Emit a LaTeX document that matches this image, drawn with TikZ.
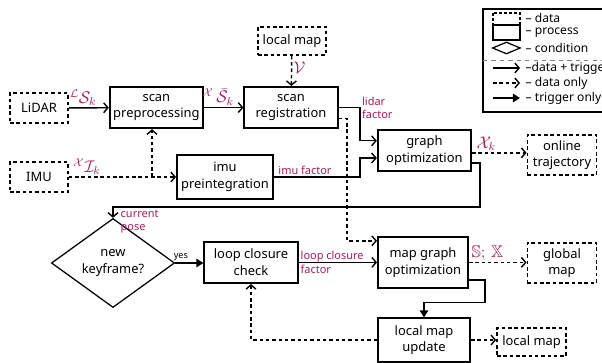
\documentclass[tikz,border=0pt]{standalone}
\usepackage{amsmath}
\usepackage{amssymb}
\usepackage{fontspec}
\setmainfont{Noto Sans}
\usetikzlibrary{arrows.meta,shapes.geometric}
\definecolor{factor}{RGB}{163,30,90}

\begin{document}
\begin{tikzpicture}[
    font=\fontsize{9.2}{11.8}\selectfont,
    data/.style={draw, line width=1.2pt, dash pattern=on 2.5pt off 2pt, minimum width=1.45cm,
                 minimum height=0.75cm, align=center, inner sep=1pt},
    proc/.style={draw, line width=1.4pt, minimum width=2.33cm, minimum height=1.03cm,
                 align=center, inner sep=1pt},
    cond/.style={draw, diamond, line width=0.9pt, align=center, inner sep=0pt},
    flow/.style={-{Straight Barb[length=3pt,width=7pt]}, line width=1pt},
    dflow/.style={flow, dash pattern=on 2.5pt off 2pt},
    trig/.style={-{Triangle[length=5pt,width=6pt]}, line width=1pt},
    lbl/.style={color=factor, font=\fontsize{7.8}{9.4}\selectfont, align=left, inner sep=1pt},
    sym/.style={color=factor, font=\large, inner sep=1pt},
    legtxt/.style={anchor=west, font=\fontsize{8.6}{10}\selectfont, inner sep=1pt}
]
    \useasboundingbox (0,0) rectangle (15.05,-9.075);
    \clip (0,0) rectangle (15.05,-9.075);

    % Sensors
    \node[data] (lidar) at (0.975,-2.7)   {LiDAR};
    \node[data] (imu)   at (0.975,-4.425) {IMU};

    % Odometry
    \node[proc] (prep) at (3.91,-2.69)  {scan\\preprocessing};
    \node[proc] (reg)  at (7.275,-2.69) {scan\\registration};
    \node[data, minimum width=1.7cm, minimum height=0.7cm] (lmapin) at (7.3,-1.025) {local map};
    \node[proc, minimum width=2.4cm, minimum height=1.08cm] (preint) at (5.625,-4.425) {imu\\preintegration};
    \node[proc] (gopt) at (10.61,-3.76) {graph\\optimization};
    \node[data, minimum width=1.73cm, minimum height=1cm] (traj) at (14.05,-3.875) {online\\trajectory};

    % Mapping
    \node[cond, minimum width=3.08cm, minimum height=1.48cm] (kf) at (2.825,-6.575) {new\\keyframe?};
    \node[proc] (lcc) at (6.275,-6.56) {loop closure\\check};
    \node[proc, minimum width=2.25cm, minimum height=1.28cm] (mgo) at (10.575,-6.56) {map graph\\optimization};
    \node[data, minimum width=1.73cm, minimum height=1cm] (gmap) at (14.05,-6.575) {global\\map};
    \node[proc, minimum width=2.3cm, minimum height=1.08cm] (lmu) at (10.6,-8.5) {local map\\update};
    \node[data, minimum width=1.73cm, minimum height=0.7cm] (lmapout) at (13.29,-8.55) {local map};

    % Turning points
    \coordinate (split) at (3.8,-4.425);
    \coordinate (fuse)  at (9.0,-3.0);
    \coordinate (tap)   at (8.675,-3.0);
    \coordinate (pose)  at (12.0,-5.175);

    % Odometry arrows
    \draw[flow] (lidar) -- node[sym, above, pos=0.36] (lidarlbl) {$^{\mathcal{L}}\mathcal{S}_k$} (prep);
    \draw[flow] (prep) -- node[sym, above, pos=0.36] (preplbl) {$^{\mathcal{X}}\,\bar{\mathcal{S}}_k$} (reg);
    \draw[dflow] (lmapin) -- node[sym, right, pos=0.4] (maplbl) {$\mathcal{V}$} (reg);
    \draw[dflow] (imu) -- node[sym, above, pos=0.17] (imulbl) {$^{\mathcal{X}}\mathcal{I}_k$} (preint);
    \draw[dflow] (split) -- (split |- prep.south);
    \draw[flow] (reg.east) -- (reg.east -| fuse) node[lbl, right] (lidarfac) {lidar\\factor}
        |- ([yshift=0.24cm]gopt.west);
    \draw[flow] (preint.east) -- node[lbl, above, pos=0.36] (imufac) {imu factor} (preint.east -| fuse)
        |- ([yshift=-0.19cm]gopt.west);
    \draw[dflow] ([yshift=-0.28cm]reg.east) -- ([yshift=-0.28cm]reg.east -| tap)
        |- ([yshift=0.54cm]mgo.west);
    \draw[dflow] ([yshift=-0.06cm]gopt.east) -- node[sym, above, pos=0.26] (statelbl) {$\mathcal{X}_k$}
        ([yshift=-0.06cm]gopt.east -| traj.west);
    \draw[flow] ([yshift=-0.31cm]gopt.east) -| (pose) -| node[lbl, pos=0.5, anchor=north west,
        xshift=4pt, yshift=-1pt] (poselbl) {current\\pose} (kf.north);

    % Mapping arrows
    \draw[trig] (kf.east) -- node[font=\fontsize{6.5}{7}\selectfont, above, pos=0.2, inner sep=1pt]
        (yeslbl) {yes} (kf.east -| lcc.west);
    \draw[flow] (lcc.east) -- node[lbl, anchor=west, pos=0] (loopfac) {loop closure\\factor}
        (lcc.east -| mgo.west);
    \draw[dflow] (mgo.east) -- node[sym, above, pos=0.32] (maplbl2) {$\mathbb{S};\,\mathbb{X}$}
        (mgo.east -| gmap.west);
    \draw[trig] ([yshift=-0.44cm]mgo.east) -- ++(0.4,0) |- ([yshift=0.38cm]lmu.north) -- (lmu.north);
    \draw[dflow] (lmu.west) -| (lcc.south);
    \draw[dflow] (lmu.east) -- (lmu.east -| lmapout.west);

    % Legend
    \draw[line width=1.2pt] (12.075,-0.225) rectangle (16,-2.8);
    \draw[gray, dashed, thin] (12.075,-1.5) -- (16,-1.5);
    \draw[line width=1.4pt] (12.325,-0.625) rectangle (13,-1.0);
    \draw[line width=1.2pt, dash pattern=on 2pt off 1.5pt] (12.325,-0.325) rectangle (13,-0.625);
    \node[cond, minimum width=0.7cm, minimum height=0.3cm] (legcond) at (12.66,-1.2) {};
    \draw[flow]  (12.325,-1.7)   -- (13.0,-1.7);
    \draw[dflow] (12.325,-2.075) -- (13.0,-2.075);
    \draw[trig]  (12.325,-2.45)  -- (13.0,-2.45);
    \node[legtxt] (legdata) at (13.1,-0.45)  {– data};
    \node[legtxt] (legproc) at (13.1,-0.825) {– process};
    \node[legtxt] (legcnd)  at (13.1,-1.2)   {– condition};
    \node[legtxt] (legboth) at (13.1,-1.7)   {–data + trigger};
    \node[legtxt] (legonly) at (13.1,-2.075) {– data only};
    \node[legtxt] (legtrig) at (13.1,-2.45)  {– trigger only};
\end{tikzpicture}
\end{document}
